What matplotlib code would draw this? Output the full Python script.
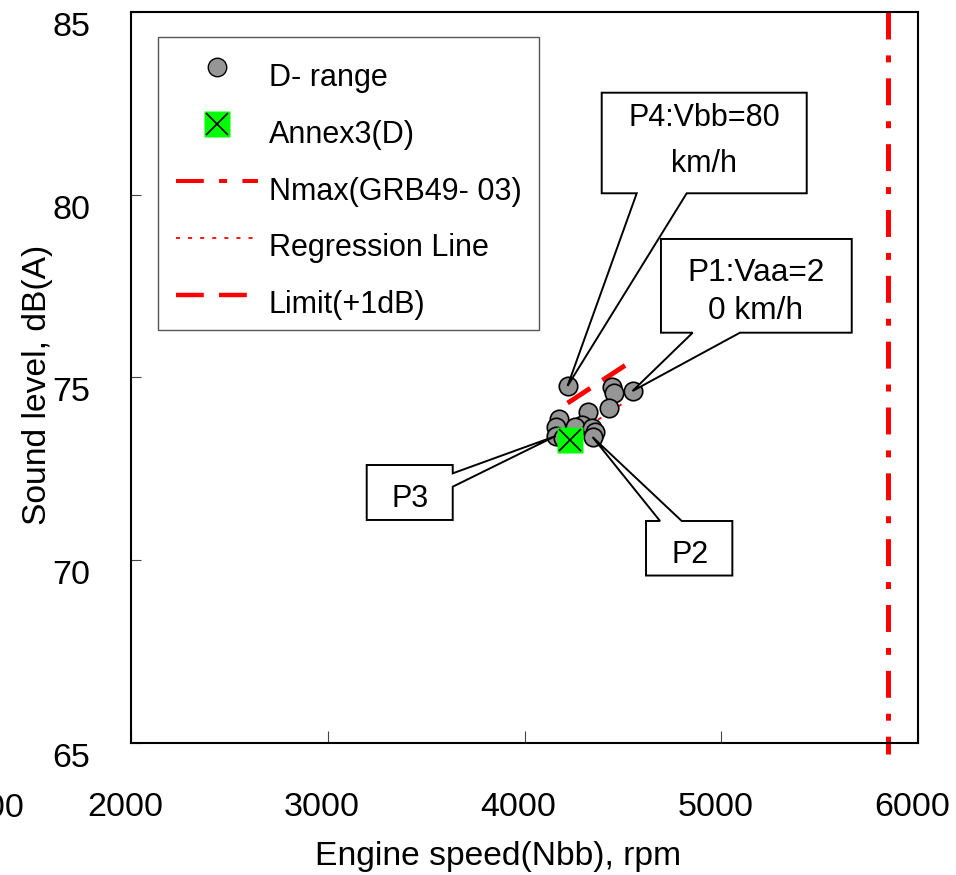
import matplotlib
matplotlib.use("Agg")
import matplotlib.pyplot as plt
import matplotlib.transforms as mtransforms
from matplotlib.lines import Line2D
from matplotlib.patches import Polygon
from matplotlib.legend_handler import HandlerTuple

plt.rcParams["font.family"] = ["Liberation Sans", "DejaVu Sans"]
plt.rcParams["lines.scale_dashes"] = False

# D-range measurements: engine speed (rpm) and sound level dB(A)
d_range_rpm = [4219, 4443, 4453, 4549, 4428, 4321, 4174, 4159, 4159,
               4291, 4255, 4341, 4357, 4346, 4194]
d_range_db = [74.77, 74.74, 74.58, 74.63, 74.17, 74.06, 73.86, 73.65, 73.40,
              73.70, 73.65, 73.62, 73.51, 73.37, 73.34]

# Annex 3 (D) reference point
annex3_rpm = [4229]
annex3_db = [73.29]

# Maximum rated engine speed (GRB49-03)
nmax_rpm = 5850

# Regression line through the D-range points and the +1 dB limit
regression_rpm = [4219, 4514]
regression_db = [73.30, 74.34]
limit_margin_db = 1.0
limit_db = [v + limit_margin_db for v in regression_db]

# Point callouts: label text and index into the D-range arrays
callout_labels = ["P1:Vaa=2\n0 km/h", "P2", "P3", "P4:Vbb=80\nkm/h"]
callout_index = [3, 13, 8, 0]

x_ticks = [2000, 3000, 4000, 5000, 6000]
y_ticks = [65, 70, 75, 80, 85]

fig = plt.figure(figsize=(9.56, 8.75), dpi=100)
ax = fig.add_axes([131 / 956, 1 - 743 / 875, 787 / 956, 731 / 875])
ax.set_xlim(2000, 6000)
ax.set_ylim(65, 85)

# Nmax vertical line (runs slightly below the frame)
ax.plot([nmax_rpm, nmax_rpm], [85, 64.7], color="#ff0000", lw=3.6,
        dashes=[19.4, 11.5, 5.0, 11.5], solid_capstyle="butt",
        dash_capstyle="butt", clip_on=False, zorder=2)

# Regression and limit lines
ax.plot(regression_rpm, regression_db, color="#ff0000", lw=1.3,
        dashes=[2.9, 5.8], zorder=2)
ax.plot(regression_rpm, limit_db, color="#ff0000", lw=3.5,
        dashes=[19.5, 10.5], dash_capstyle="butt", zorder=2)

# D-range scatter
ax.plot(d_range_rpm, d_range_db, ls="none", marker="o", ms=13.3,
        mfc="#969696", mec="black", mew=1.2, zorder=3)

# Annex 3 point: green square with a cross
ax.plot(annex3_rpm, annex3_db, ls="none", marker="s", ms=18.5,
        mfc="#00ff00", mec="none", zorder=6)
ax.plot(annex3_rpm, annex3_db, ls="none", marker="x", ms=16,
        mec="black", mew=1.2, zorder=7)


def callout(ax, text, tip, box, edge, base, text_pos, linespacing=1.2,
            fontsize=22):
    """Box with a wedge-shaped pointer; box/base/text_pos in axes fraction."""
    tx, ty = (ax.transData + ax.transAxes.inverted()).transform(tip)
    x0, y0, x1, y1 = box
    b0, b1 = base
    if edge == "bottom":
        verts = [(x0, y1), (x1, y1), (x1, y0), (b1, y0), (tx, ty),
                 (b0, y0), (x0, y0)]
    elif edge == "top":
        verts = [(x0, y0), (x0, y1), (b0, y1), (tx, ty), (b1, y1),
                 (x1, y1), (x1, y0)]
    else:  # right
        verts = [(x0, y0), (x0, y1), (x1, y1), (x1, b1), (tx, ty),
                 (x1, b0), (x1, y0)]
    ax.add_patch(Polygon(verts, closed=True, transform=ax.transAxes,
                         facecolor="white", edgecolor="black", lw=1.4,
                         joinstyle="miter", zorder=5, clip_on=False))
    ax.text(text_pos[0], text_pos[1], text, transform=ax.transAxes,
            ha="center", va="center", fontsize=fontsize,
            linespacing=linespacing, zorder=5.5)


layouts = [
    dict(box=(0.6734, 0.5613, 0.9158, 0.6895), edge="bottom",
         base=(0.7137, 0.7738), text_pos=(0.794, 0.617), linespacing=1.38,
         fontsize=22.8),
    dict(box=(0.6544, 0.2291, 0.7641, 0.3037), edge="top",
         base=(0.6722, 0.6998), text_pos=(0.710, 0.257)),
    dict(box=(0.2995, 0.3051, 0.4088, 0.3803), edge="right",
         base=(0.3506, 0.3689), text_pos=(0.3545, 0.334)),
    dict(box=(0.5981, 0.7520, 0.8586, 0.8896), edge="bottom",
         base=(0.6426, 0.7061), text_pos=(0.728, 0.823), linespacing=1.7),
]
for label, idx, lay in zip(callout_labels, callout_index, layouts):
    callout(ax, label, (d_range_rpm[idx], d_range_db[idx]), **lay)

# Axes styling
for s in ax.spines.values():
    s.set_linewidth(1.5)
    s.set_color("black")
ax.set_xticks(x_ticks)
ax.set_yticks(y_ticks)
ax.set_xticklabels([str(v) for v in x_ticks])
ax.set_yticklabels([str(v) for v in y_ticks])
ax.tick_params(axis="both", direction="in", labelsize=24.5, width=0.8,
               color="#444444")
ax.tick_params(axis="x", length=9, pad=35)
ax.tick_params(axis="y", length=7.5, pad=29.5)

dx = mtransforms.ScaledTranslation(-6 / 100, 0, fig.dpi_scale_trans)
dy = mtransforms.ScaledTranslation(0, -12 / 100, fig.dpi_scale_trans)
for t in ax.xaxis.get_major_ticks():
    t.label1.set_transform(t.label1.get_transform() + dx)
for t in ax.yaxis.get_major_ticks():
    t.label1.set_transform(t.label1.get_transform() + dy)

# Partially visible leftover tick label at the left edge
fig.text(24 / 956, 1 - 817 / 875, "1000", ha="right", va="baseline",
         fontsize=24.5)

ax.set_xlabel("Engine speed(Nbb), rpm", fontsize=24.2)
ax.set_ylabel("Sound level, dB(A)", fontsize=24.2)
ax.xaxis.set_label_coords(0.4663, -0.134)
ax.yaxis.set_label_coords(-0.099, 0.4897)

# Legend
h_d = Line2D([], [], ls="none", marker="o", ms=13.3, mfc="#969696",
             mec="black", mew=1.0)
h_sq = Line2D([], [], ls="none", marker="s", ms=18.5, mfc="#00ff00",
              mec="none")
h_x = Line2D([], [], ls="none", marker="x", ms=16, mec="black", mew=1.2)
h_nmax = Line2D([], [], color="#ff0000", lw=2.9,
                dashes=[20, 11, 5.8, 11], dash_capstyle="butt")
h_reg = Line2D([], [], color="#ff0000", lw=1.3, dashes=[2.9, 5.8])
h_lim = Line2D([], [], color="#ff0000", lw=3.2, dashes=[20, 11],
               dash_capstyle="butt")
leg = ax.legend([h_d, (h_sq, h_x), h_nmax, h_reg, h_lim],
                ["D- range", "Annex3(D)", "Nmax(GRB49- 03)",
                 "Regression Line", "Limit(+1dB)"],
                handler_map={tuple: HandlerTuple(ndivide=1)},
                loc="upper left", bbox_to_anchor=(0.0343, 0.9658),
                borderaxespad=0, fontsize=22, handlelength=2.7,
                handletextpad=0.34, labelspacing=0.88, borderpad=0.58,
                fancybox=False, framealpha=1, edgecolor="#555555")
leg.get_frame().set_linewidth(1.0)
leg.set_zorder(8)
# Labels sit a little lower than their symbols
text_shift = mtransforms.ScaledTranslation(0, -8 / 100, fig.dpi_scale_trans)
for t in leg.get_texts():
    t.set_transform(t.get_transform() + text_shift)

fig.savefig("out.png", dpi=100)
